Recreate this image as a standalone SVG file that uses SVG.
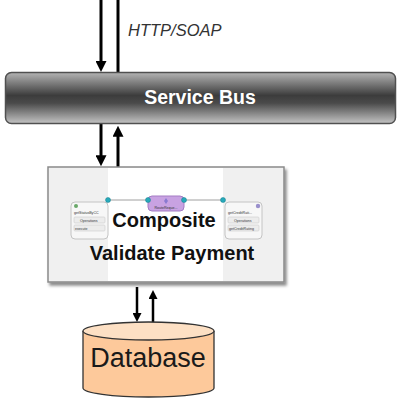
<svg xmlns="http://www.w3.org/2000/svg" width="404" height="408" viewBox="0 0 404 408">
<defs>
<linearGradient id="busGrad" x1="0" y1="0" x2="0" y2="1">
<stop offset="0" stop-color="#b4b4b4"/>
<stop offset="0.45" stop-color="#3c3c3c"/>
<stop offset="0.6" stop-color="#4a4a4a"/>
<stop offset="1" stop-color="#c4c4c4"/>
</linearGradient>
<filter id="shadow" x="-10%" y="-10%" width="125%" height="130%">
<feDropShadow dx="2" dy="3" stdDeviation="1.5" flood-color="#000" flood-opacity="0.45"/>
</filter>
<marker id="ah" viewBox="0 0 10 10" refX="3" refY="5" markerWidth="11" markerHeight="11" markerUnits="userSpaceOnUse" orient="auto">
<path d="M0,0 L10,5 L0,10 z" fill="#000"/>
</marker>
<marker id="ahs" viewBox="0 0 10 10" refX="3" refY="5" markerWidth="9" markerHeight="9" markerUnits="userSpaceOnUse" orient="auto">
<path d="M0,0 L10,5 L0,10 z" fill="#000"/>
</marker>
</defs>
<style>
.conn{stroke:#000;stroke-width:3;fill:none}
.conns{stroke:#000;stroke-width:2.5;fill:none}
.lbl{font-family:"Liberation Sans",Arial,sans-serif}
.mini{fill:#f7f7f7;stroke:#c4c4c4;stroke-width:1}
.row{fill:#ececec;stroke:#cfcfcf;stroke-width:0.6}
.tiny{font-family:"Liberation Sans",Arial,sans-serif;font-size:3.6px;fill:#333}
.port{fill:#26aabb;stroke:#1b7f8c;stroke-width:0.5}
.wire{stroke:#a0a0a0;stroke-width:1}
</style>

<g id="connectors">
<line class="conn" x1="101" y1="0" x2="101" y2="64.3" marker-end="url(#ah)"/>
<line class="conn" x1="118" y1="0" x2="118" y2="73"/>
<line class="conn" x1="101" y1="124" x2="101" y2="158.5" marker-end="url(#ah)"/>
<line class="conn" x1="118" y1="167" x2="118" y2="133.5" marker-end="url(#ah)"/>
<line class="conns" x1="137" y1="287" x2="137" y2="315.7" marker-end="url(#ahs)"/>
<line class="conns" x1="153" y1="323" x2="153" y2="296.3" marker-end="url(#ahs)"/>
</g>

<text class="lbl" x="128" y="36" font-size="16.5" font-style="italic" fill="#333">HTTP/SOAP</text>

<g id="service-bus">
<rect x="5.5" y="72.5" width="390" height="51" rx="6" ry="6" fill="url(#busGrad)" stroke="#505050" stroke-width="1.5"/>
<text class="lbl" x="200" y="104" font-size="19.5" font-weight="bold" fill="#fff" text-anchor="middle">Service Bus</text>
</g>

<g id="composite">
<rect x="48" y="167" width="236" height="115" fill="#f0f0f0" stroke="#8a8a8a" stroke-width="1.5" filter="url(#shadow)"/>
<rect x="108" y="168" width="115" height="113" fill="#ffffff"/>
<line class="wire" x1="108" y1="200" x2="148" y2="200"/>
<line class="wire" x1="184" y1="200" x2="223" y2="200"/>
<g id="svc-getStatusByCC">
<rect class="mini" x="71" y="202" width="37" height="37" rx="4"/>
<circle cx="76" cy="206" r="2" fill="#6aa86a"/>
<text class="tiny" x="74" y="214">getStatusByCC</text>
<rect class="row" x="74" y="217" width="31" height="6" rx="1"/>
<text class="tiny" x="80" y="221.5">Operations</text>
<rect class="row" x="74" y="225" width="31" height="6" rx="1" fill="#fafafa"/>
<text class="tiny" x="75" y="229.5">execute</text>
</g>
<g id="med-RouteRequest">
<rect x="148" y="196" width="36" height="15" rx="4" fill="#c8a2e2" stroke="#a47cc4" stroke-width="1"/>
<path d="M166,198 L168,201 L166,204 L164,201 z" fill="#8a7ad0"/>
<text class="tiny" x="166" y="209" text-anchor="middle">RouteReque...</text>
</g>
<g id="ref-getCreditRating">
<rect class="mini" x="225" y="202" width="37" height="37" rx="4"/>
<circle cx="258" cy="206" r="2.2" fill="#9a90cc"/>
<text class="tiny" x="228" y="214">getCreditRati...</text>
<rect class="row" x="228" y="217" width="31" height="6" rx="1"/>
<text class="tiny" x="234" y="221.5">Operations</text>
<rect class="row" x="228" y="225" width="31" height="6" rx="1" fill="#fafafa"/>
<text class="tiny" x="229" y="229.5">getCreditRating</text>
</g>
<circle class="port" cx="108" cy="200" r="2.5"/>
<circle class="port" cx="148" cy="200" r="2.5"/>
<circle class="port" cx="184" cy="200" r="2.5"/>
<circle class="port" cx="223" cy="200" r="2.5"/>
<text class="lbl" x="164" y="227" font-size="20" font-weight="bold" fill="#111" text-anchor="middle">Composite</text>
<text class="lbl" x="172" y="260" font-size="20" font-weight="bold" fill="#111" text-anchor="middle">Validate Payment</text>
</g>

<g id="database">
<path d="M83,331 L83,388 A65.5,9 0 0 0 214,388 L214,331" fill="#fdc99b" stroke="#333" stroke-width="1.3"/>
<ellipse cx="148.5" cy="331" rx="65.5" ry="9" fill="#fde0c4" stroke="#333" stroke-width="1.3"/>
<text class="lbl" x="148" y="367" font-size="27" fill="#1a1a1a" text-anchor="middle">Database</text>
</g>
</svg>
